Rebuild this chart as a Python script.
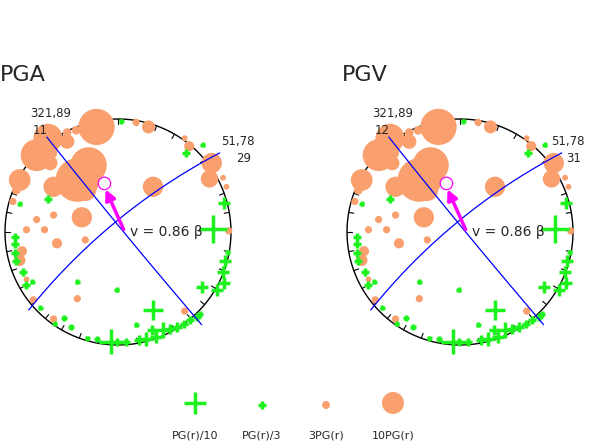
import numpy as np, pandas as pd, seaborn as sns, matplotlib
matplotlib.use("Agg")
import matplotlib.pyplot as plt

sns.set_style("white")
plt.rcParams['font.family'] = ['DejaVu Sans']

# orange circles: x, y (unit stereonet coords), diameter (px)
orange_x = [-0.19,-0.14,-0.37,-0.45,-0.62,-0.45,-0.72,-0.59,-0.60,-0.26,-0.36,-0.57,-0.29,-0.87,-0.90,-0.93,-0.32,-0.57,-0.72,-0.65,-0.81,-0.54,-0.29,-0.85,-0.87,0.31,0.27,0.16,0.59,0.63,0.83,0.81,0.93,0.96,0.98,-0.75,-0.36,-0.57,0.59,-0.81]
orange_y = [0.93,0.95,0.90,0.88,0.83,0.80,0.68,0.70,0.61,0.59,0.46,0.40,0.37,0.46,0.37,0.27,0.13,0.15,0.11,0.02,0.02,-0.10,-0.07,-0.17,-0.25,0.40,0.93,0.97,0.83,0.76,0.61,0.47,0.48,0.40,0.01,-0.60,-0.59,-0.77,-0.70,-0.42]
orange_d = [25,6,6,6,20,10,22,8,10,25,30,14,15,15,6,5,14,5,5,5,5,7,5,7,8,14,9,5,4,7,14,12,4,4,5,5,5,5,5,4]
# green crosses
green_x = [0.03,-0.87,-0.36,-0.01,-0.69,-0.76,0.16,-0.27,0.75,0.97,-0.56,-0.62,0.60,0.94,0.84,-0.91,-0.91,-0.91,-0.90,-0.84,-0.81,0.95,0.93,0.88,0.94,0.74,0.31,-0.06,-0.19,0.07,0.19,0.25,0.34,0.40,0.46,0.52,0.58,0.64,0.70,0.73,0.30,-0.42,-0.48,-0.01]
green_y = [0.98,0.25,-0.44,-0.51,-0.67,-0.44,-0.82,-0.94,0.77,-0.18,-0.81,0.29,0.70,0.26,0.03,-0.04,-0.11,-0.19,-0.26,-0.35,-0.47,-0.26,-0.35,-0.51,-0.45,-0.49,-0.69,-0.97,-0.95,-0.97,-0.96,-0.95,-0.93,-0.87,-0.86,-0.84,-0.81,-0.78,-0.75,-0.73,-0.87,-0.84,-0.76,-0.97]
green_d = [5,5,5,5,5,5,5,5,5,5,5,8,8,12,28,8,8,8,8,8,8,12,12,12,12,12,20,25,6,8,10,14,12,16,10,10,8,8,8,6,10,6,6,8]

titles = ["PGA", "PGV"]
pole_labels = [("321,89", "11", "51,78", "29"), ("321,89", "12", "51,78", "31")]
velocity_label = "v = 0.86 β"
legend_labels = ["PG(r)/10", "PG(r)/3", "3PG(r)", "10PG(r)"]

ORANGE = "#F9A06E"
GREEN = "#1EF21E"
W, H = 600, 443
R = 113
fig = plt.figure(figsize=(6, 4.43), dpi=100)

def circ3(p1, p2, p3, n=200):
    ax_, ay_ = p1; bx, by = p2; cx, cy = p3
    d = 2*(ax_*(by-cy)+bx*(cy-ay_)+cx*(ay_-by))
    ux = ((ax_**2+ay_**2)*(by-cy)+(bx**2+by**2)*(cy-ay_)+(cx**2+cy**2)*(ay_-by))/d
    uy = ((ax_**2+ay_**2)*(cx-bx)+(bx**2+by**2)*(ax_-cx)+(cx**2+cy**2)*(bx-ax_))/d
    r = np.hypot(ax_-ux, ay_-uy)
    a1 = np.arctan2(ay_-uy, ax_-ux); a3 = np.arctan2(cy-uy, cx-ux)
    a2 = np.arctan2(by-uy, bx-ux)
    def inrange(a, s, e):
        return (a - s) % (2*np.pi) <= (e - s) % (2*np.pi)
    if inrange(a2, a1, a3):
        t = np.linspace(a1, a1 + (a3-a1) % (2*np.pi), n)
    else:
        t = np.linspace(a1, a1 - (a1-a3) % (2*np.pi), n)
    return ux + r*np.cos(t), uy + r*np.sin(t)

ms_scale = 0.72
o_scale = 1.45
for k, cx in enumerate([118, 460]):
    cy = 232
    half = 1.12
    ax = fig.add_axes([(cx - half*R)/W, (H - cy - half*R)/H, 2*half*R/W, 2*half*R/H])
    ax.set_xlim(-half, half); ax.set_ylim(-half, half); ax.axis("off")
    t = np.linspace(0, 2*np.pi, 400)
    ax.plot(np.cos(t), np.sin(t), color="black", lw=1)
    for a in np.deg2rad(np.arange(0, 360, 10)):
        ax.plot([np.cos(a), 0.955*np.cos(a)], [np.sin(a), 0.955*np.sin(a)], color="black", lw=0.8)
    odf = pd.DataFrame({"x": orange_x, "y": orange_y})
    sns.scatterplot(data=odf, x="x", y="y", s=(np.array(orange_d)*ms_scale*o_scale)**2, color=ORANGE,
                    edgecolor="none", ax=ax, legend=False, zorder=2)
    gdf = pd.DataFrame({"x": green_x, "y": green_y})
    sns.scatterplot(data=gdf, x="x", y="y", s=(np.array(green_d)*ms_scale)**2, color=GREEN,
                    marker="+", linewidth=2.5, ax=ax, legend=False, zorder=3)
    x1, y1 = circ3((-0.63, 0.84), (0.05, 0.0), (0.74, -0.82))
    ax.plot(x1, y1, color="blue", lw=0.9, zorder=4)
    x2, y2 = circ3((-0.79, -0.69), (-0.02, 0.09), (0.90, 0.70))
    ax.plot(x2, y2, color="blue", lw=0.9, zorder=4)
    ax.annotate("", xy=(-0.12, 0.40), xytext=(0.06, 0.0),
                arrowprops=dict(arrowstyle="-|>,head_length=0.6,head_width=0.3", color="magenta", lw=2.5), zorder=5)
    ax.add_patch(plt.Circle((-0.12, 0.43), 0.055, fill=False, ec="magenta", lw=0.9, zorder=5))
    ax.text(0.11, 0.0, velocity_label, fontsize=10, va="center", ha="left")
    lab = pole_labels[k]
    fig.text((cx - 88)/W, 1 - 113/H, lab[0], fontsize=8.5, ha="left", va="center")
    fig.text((cx - 85)/W, 1 - 130/H, lab[1], fontsize=8.5, ha="left", va="center")
    rx = cx + 137 if k == 0 else cx + 125
    fig.text(rx/W, 1 - 142/H, lab[2], fontsize=8.5, ha="right", va="center")
    fig.text((rx - 4)/W, 1 - 158/H, lab[3], fontsize=8.5, ha="right", va="center")
    fig.text((cx - 118)/W, 1 - 75/H, titles[k], fontsize=16, ha="left", va="center")

# legend
lax = fig.add_axes([0, 0, 1, 1]); lax.set_xlim(0, W); lax.set_ylim(H, 0); lax.axis("off")
lx = [195, 262, 326, 393]
lax.scatter([lx[0]], [403], s=(22*ms_scale)**2, marker="+", color=GREEN, linewidths=2.5)
lax.scatter([lx[1]], [405], s=(8*ms_scale)**2, marker="+", color=GREEN, linewidths=2.5)
lax.scatter([lx[2]], [405], s=(8*ms_scale)**2, color=ORANGE, edgecolors="none")
lax.scatter([lx[3]], [403], s=(22*ms_scale)**2, color=ORANGE, edgecolors="none")
for x, l in zip(lx, legend_labels):
    lax.text(x, 435, l, fontsize=8, ha="center", va="center")

fig.savefig("out.png", dpi=100)
